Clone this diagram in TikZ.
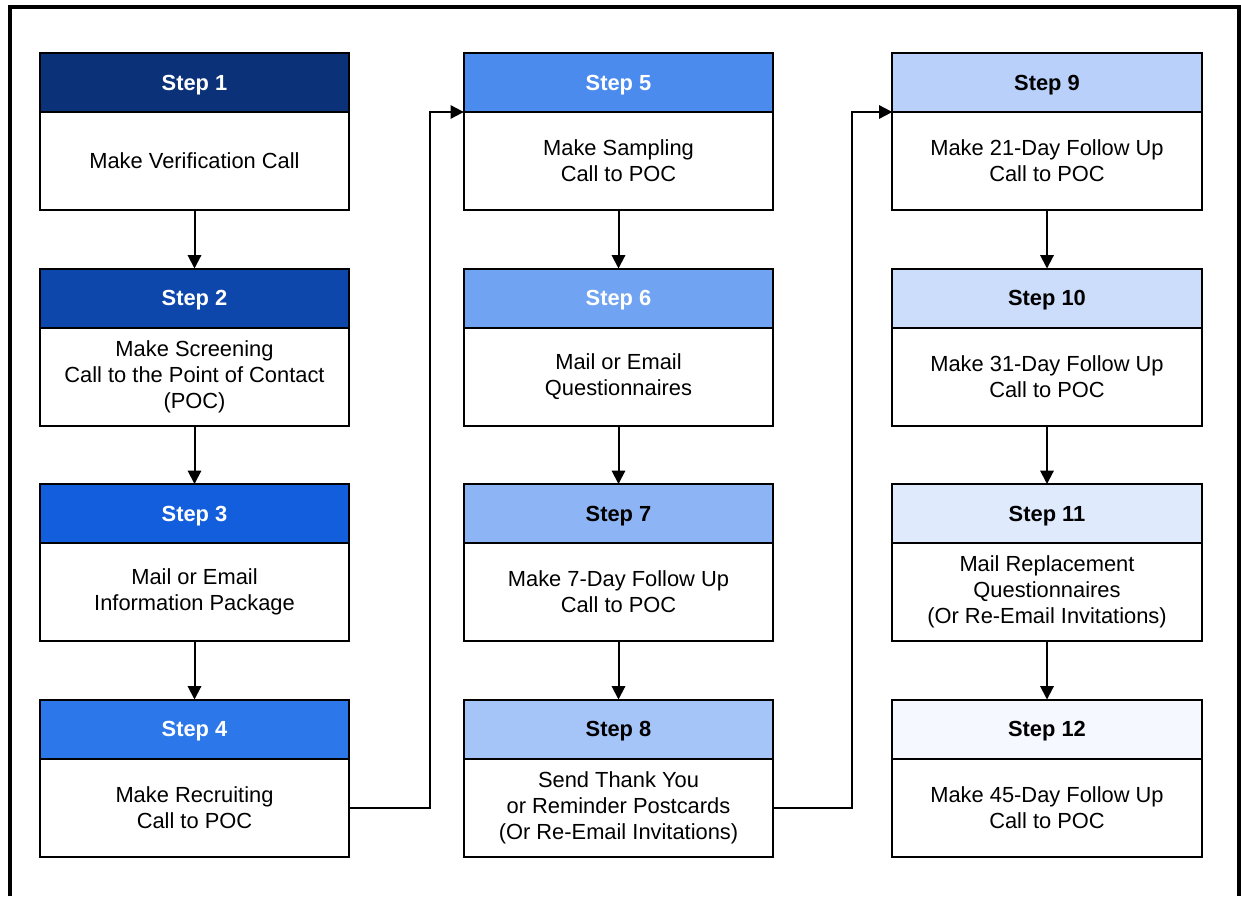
\documentclass[tikz,border=0pt]{standalone}
\usepackage{fontspec}
\setmainfont{Liberation Sans}
\usetikzlibrary{arrows.meta,positioning}
\definecolor{c1}{HTML}{0B3178}
\definecolor{c2}{HTML}{0D47AB}
\definecolor{c3}{HTML}{135EDD}
\definecolor{c4}{HTML}{2C78EA}
\definecolor{c5}{HTML}{4C8BEE}
\definecolor{c6}{HTML}{70A3F1}
\definecolor{c7}{HTML}{8DB5F5}
\definecolor{c8}{HTML}{A5C4F7}
\definecolor{c9}{HTML}{B9D0FA}
\definecolor{c10}{HTML}{CCDDFB}
\definecolor{c11}{HTML}{E0EAFD}
\definecolor{c12}{HTML}{F5F8FE}
\tikzset{
  hdr/.style={draw=black, line width=1.5pt, minimum width=232pt, minimum height=44.25pt,
    inner sep=0pt, outer sep=0pt, text depth=0pt, font=\fontsize{16.4}{19.5}\selectfont\bfseries, anchor=north},
  body/.style={draw=black, line width=1.5pt, minimum width=232pt, minimum height=73.5pt,
    inner sep=0pt, outer sep=0pt, align=center, font=\fontsize{16.4}{19.5}\selectfont, anchor=north},
  conn/.style={line width=1.5pt, -{Triangle[length=10pt,width=10pt]}},
}
\begin{document}
\begin{tikzpicture}[x=0.75pt,y=-0.75pt]
\useasboundingbox (0,0) rectangle (1241,896);
\draw[line width=3pt] (10,896) -- (10,7) -- (1239,7) -- (1239,896);
% step helper
\newcommand{\mkstep}[6]{%
  \node[hdr, fill=#4, text=#5] (h#1) at (#2,#3) {Step #1};
  \node[body] (b#1) at (h#1.south) {#6};
}
\mkstep{1}{194.5}{53}{c1}{white}{Make Verification Call}
\mkstep{2}{194.5}{268.5}{c2}{white}{Make Screening\\Call to the Point of Contact\\(POC)}
\mkstep{3}{194.5}{484}{c3}{white}{Mail or Email\\Information Package}
\mkstep{4}{194.5}{699.5}{c4}{white}{Make Recruiting\\Call to POC}
\mkstep{5}{618.5}{53}{c5}{white}{Make Sampling\\Call to POC}
\mkstep{6}{618.5}{268.5}{c6}{white}{Mail or Email\\Questionnaires}
\mkstep{7}{618.5}{484}{c7}{black}{Make 7-Day Follow Up\\Call to POC}
\mkstep{8}{618.5}{699.5}{c8}{black}{Send Thank You\\or Reminder Postcards\\(Or Re-Email Invitations)}
\mkstep{9}{1047}{53}{c9}{black}{Make 21-Day Follow Up\\Call to POC}
\mkstep{10}{1047}{268.5}{c10}{black}{Make 31-Day Follow Up\\Call to POC}
\mkstep{11}{1047}{484}{c11}{black}{Mail Replacement\\Questionnaires\\(Or Re-Email Invitations)}
\mkstep{12}{1047}{699.5}{c12}{black}{Make 45-Day Follow Up\\Call to POC}
\foreach \a/\b in {1/2,2/3,3/4,5/6,6/7,7/8,9/10,10/11,11/12}{
  \draw[conn] (b\a.south) -- (h\b.north);
}
\draw[conn] (b4.east) -- ++(81,0) |- (b5.north west);
\draw[conn] (b8.east) -- ++(79,0) |- (b9.north west);
\end{tikzpicture}
\end{document}
